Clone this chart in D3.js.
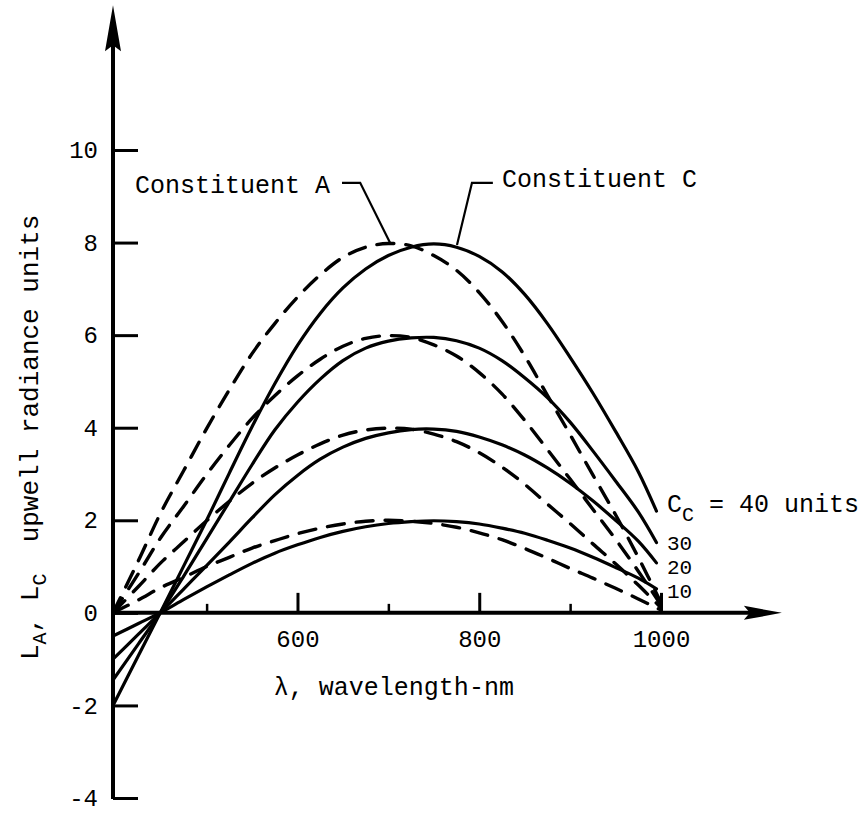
<!DOCTYPE html>
<html>
<head>
<meta charset="utf-8">
<script src="https://cdn.jsdelivr.net/npm/d3@7"></script>
<style>
  body { margin: 0; background: #fff; }
  svg { display: block; }
</style>
</head>
<body>
<svg id="chart" width="866" height="814"></svg>
<script>
// ---------------- DATA ----------------
// wavelength (nm) sample points
const wavelengthC = [397, 425, 450, 475, 500, 525, 550, 575, 600, 625, 650, 675, 700, 725, 750, 775, 800, 825, 850, 875, 900, 925, 950, 975, 995];
const wavelengthA = [397, 425, 450, 475, 500, 525, 550, 575, 600, 625, 650, 675, 700, 725, 750, 775, 800, 825, 850, 875, 900, 925, 950, 975, 1000];

// Constituent C (solid curves), C_C = 40, 30, 20, 10 units
const constituentC40 = [-2.0, -0.92, 0.04, 1.02, 2.0, 3.02, 4.02, 4.95, 5.78, 6.47, 7.02, 7.43, 7.72, 7.9, 7.97, 7.9, 7.7, 7.37, 6.88, 6.25, 5.52, 4.75, 3.92, 3.05, 2.2];
const constituentC30 = [-1.45, -0.67, 0.03, 0.8, 1.6, 2.4, 3.2, 3.95, 4.55, 5.05, 5.45, 5.72, 5.87, 5.94, 5.95, 5.88, 5.72, 5.45, 5.08, 4.65, 4.12, 3.5, 2.85, 2.18, 1.52];
const constituentC20 = [-1.0, -0.46, 0.02, 0.52, 1.02, 1.53, 2.05, 2.55, 2.97, 3.32, 3.58, 3.77, 3.89, 3.96, 3.97, 3.92, 3.8, 3.63, 3.41, 3.13, 2.8, 2.42, 2.0, 1.55, 1.08];
const constituentC10 = [-0.5, -0.23, 0.01, 0.29, 0.56, 0.82, 1.07, 1.29, 1.47, 1.63, 1.76, 1.86, 1.93, 1.97, 1.99, 1.97, 1.92, 1.83, 1.72, 1.57, 1.4, 1.2, 0.98, 0.75, 0.52];

// Constituent A (dashed curves)
const constituentA40 = [0, 1.13, 2.18, 3.08, 3.98, 4.82, 5.6, 6.25, 6.82, 7.3, 7.68, 7.9, 7.98, 7.93, 7.72, 7.4, 6.92, 6.3, 5.55, 4.7, 3.85, 2.98, 2.12, 1.2, 0.22];
const constituentA30 = [0, 0.85, 1.64, 2.31, 2.99, 3.62, 4.2, 4.69, 5.12, 5.48, 5.76, 5.93, 5.99, 5.95, 5.79, 5.55, 5.19, 4.73, 4.16, 3.53, 2.89, 2.24, 1.59, 0.9, 0.17];
const constituentA20 = [0, 0.57, 1.09, 1.54, 1.99, 2.41, 2.8, 3.13, 3.41, 3.65, 3.84, 3.95, 3.99, 3.97, 3.86, 3.7, 3.46, 3.15, 2.78, 2.35, 1.93, 1.49, 1.06, 0.6, 0.11];
const constituentA10 = [0, 0.28, 0.55, 0.77, 1.0, 1.2, 1.4, 1.56, 1.71, 1.83, 1.92, 1.98, 2.0, 1.98, 1.93, 1.85, 1.73, 1.58, 1.39, 1.18, 0.96, 0.75, 0.53, 0.3, 0.06];

// axes
const yTickValues = [-4, -2, 0, 2, 4, 6, 8, 10];
const xMajorTicks = [600, 800, 1000];
const xMinorTicks = [500, 700, 900];
const concentrationLabels = ["40 units", "30", "20", "10"];
const concentrationLabelValues = [2.18, 1.36, 0.84, 0.32];

// ---------------- CHART ----------------
const FONT = "'Liberation Mono', 'DejaVu Sans Mono', monospace";
const svg = d3.select("#chart");
const xOrigin = 397;            // where the vertical axis stands
const xArrowTip = 1133;         // end of the wavelength axis arrow
const yArrowTip = 13.13;        // end of the radiance axis arrow

const x = d3.scaleLinear().domain([397, 1000]).range([113, 661]);
const y = d3.scaleLinear().domain([-4, 10]).range([798, 150]);

// --- axes lines with arrows
const axisG = svg.append("g");
const x0 = x(xOrigin), y0 = y(0);
const yTipPx = y(yArrowTip), xTipPx = x(xArrowTip);
axisG.append("line").attr("x1", x0).attr("x2", x0).attr("y1", y(-4) + 1).attr("y2", yTipPx + 38)
  .attr("stroke", "#000").attr("stroke-width", 4);
axisG.append("path")
  .attr("d", `M${x0},${yTipPx} L${x0 + 8},${yTipPx + 46} L${x0},${yTipPx + 40} L${x0 - 8},${yTipPx + 46} Z`)
  .attr("fill", "#000");
axisG.append("line").attr("x1", x0).attr("x2", xTipPx - 30).attr("y1", y0).attr("y2", y0)
  .attr("stroke", "#000").attr("stroke-width", 4);
axisG.append("path")
  .attr("d", `M${xTipPx},${y0} L${xTipPx - 38},${y0 - 7} L${xTipPx - 32},${y0} L${xTipPx - 38},${y0 + 7} Z`)
  .attr("fill", "#000");

// --- y ticks (inside, pointing right) and labels
const yAxis = d3.axisLeft(y).tickValues(yTickValues).tickSize(-25).tickPadding(15).tickFormat(d => String(d));
const gy = svg.append("g").attr("transform", `translate(${x0},0)`).call(yAxis);
gy.select(".domain").remove();
gy.selectAll(".tick line").attr("stroke", "#000").attr("stroke-width", 3);
gy.selectAll(".tick text").attr("font-family", FONT).attr("font-size", 24).attr("fill", "#000");

// --- x ticks
const xAxisMajor = d3.axisBottom(x).tickValues(xMajorTicks).tickSize(-20).tickPadding(17).tickFormat(d => String(d));
const gx = svg.append("g").attr("transform", `translate(0,${y0})`).call(xAxisMajor);
gx.select(".domain").remove();
gx.selectAll(".tick line").attr("stroke", "#000").attr("stroke-width", 3);
gx.selectAll(".tick text").attr("font-family", FONT).attr("font-size", 24).attr("fill", "#000");

const xAxisMinor = d3.axisBottom(x).tickValues(xMinorTicks).tickSize(-9).tickFormat("");
const gxm = svg.append("g").attr("transform", `translate(0,${y0})`).call(xAxisMinor);
gxm.select(".domain").remove();
gxm.selectAll(".tick line").attr("stroke", "#000").attr("stroke-width", 2.5);

// --- curves
const line = d3.line().x(d => x(d[0])).y(d => y(d[1])).curve(d3.curveCatmullRom.alpha(0.5));
const seriesC = [constituentC40, constituentC30, constituentC20, constituentC10];
const seriesA = [constituentA40, constituentA30, constituentA20, constituentA10];

svg.append("g").selectAll("path").data(seriesA).join("path")
  .attr("d", s => line(s.map((v, i) => [wavelengthA[i], v])))
  .attr("fill", "none").attr("stroke", "#000").attr("stroke-width", 3.4)
  .attr("stroke-dasharray", "17 12").attr("stroke-linecap", "round");

svg.append("g").selectAll("path").data(seriesC).join("path")
  .attr("d", s => line(s.map((v, i) => [wavelengthC[i], v])))
  .attr("fill", "none").attr("stroke", "#000").attr("stroke-width", 3.2)
  .attr("stroke-linecap", "round");

// --- curve labels (C_C values)
const labG = svg.append("g").attr("font-family", FONT).attr("fill", "#000");
concentrationLabels.forEach((t, i) => {
  const tx = labG.append("text").attr("x", x(1006.6)).attr("y", y(concentrationLabelValues[i]))
    .attr("font-size", i === 0 ? 25 : 21);
  if (i === 0) {
    tx.append("tspan").text("C");
    tx.append("tspan").attr("font-size", 20).attr("dy", 9).text("C");
    tx.append("tspan").attr("dy", -9).text(" = " + t);
  } else {
    tx.text(t);
  }
});

// --- constituent annotations with leader lines
const leader = d3.line().x(d => x(d[0])).y(d => y(d[1]));
svg.append("path").attr("d", leader([[649, 9.29], [669, 9.29], [702, 7.99]]))
  .attr("fill", "none").attr("stroke", "#000").attr("stroke-width", 2.2);
svg.append("path").attr("d", leader([[815, 9.29], [792, 9.29], [775.5, 7.95]]))
  .attr("fill", "none").attr("stroke", "#000").attr("stroke-width", 2.2);
svg.append("text").attr("x", x(421.2)).attr("y", y(9.07))
  .attr("font-family", FONT).attr("font-size", 25).text("Constituent A");
svg.append("text").attr("x", x(825)).attr("y", y(9.2))
  .attr("font-family", FONT).attr("font-size", 25).text("Constituent C");

// --- axis titles
svg.append("text").attr("x", x(574)).attr("y", y(-1.77))
  .attr("font-family", FONT).attr("font-size", 25).text("λ, wavelength-nm");

const yt = svg.append("text").attr("transform", "translate(38,660) rotate(-90)")
  .attr("font-family", FONT).attr("font-size", 26).attr("fill", "#000");
yt.append("tspan").text("L");
yt.append("tspan").attr("font-size", 20).attr("dy", 8).text("A");
yt.append("tspan").attr("dy", -8).text(", L");
yt.append("tspan").attr("font-size", 20).attr("dy", 8).text("C");
yt.append("tspan").attr("dy", -8).text("\u00a0\u00a0upwell radiance units");
</script>
</body>
</html>
